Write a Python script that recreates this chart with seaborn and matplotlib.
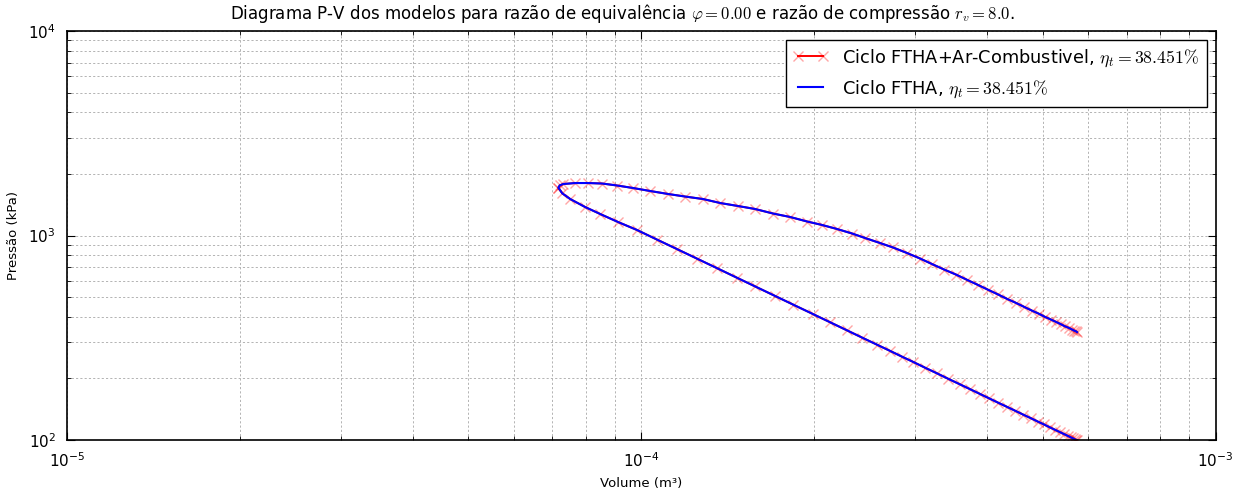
import matplotlib
matplotlib.use("Agg")
import matplotlib.pyplot as plt
import seaborn as sns
import pandas as pd

# ---- data (V in m^3, P in kPa) ----
comp_V = [5.736e-4, 5.713e-4, 5.690e-4, 5.644e-4, 5.599e-4, 5.533e-4, 5.444e-4, 5.358e-4,
          5.251e-4, 5.147e-4, 5.025e-4, 4.906e-4, 4.770e-4, 4.619e-4, 4.474e-4, 4.332e-4,
          4.179e-4, 4.031e-4, 3.888e-4, 3.736e-4, 3.589e-4, 3.420e-4, 3.273e-4, 3.119e-4,
          2.973e-4, 2.844e-4, 2.711e-4, 2.573e-4, 2.423e-4, 2.282e-4, 2.132e-4, 1.991e-4,
          1.838e-4, 1.710e-4, 1.578e-4, 1.468e-4, 1.355e-4, 1.251e-4, 1.154e-4, 1.065e-4,
          9.83e-5, 9.11e-5, 8.48e-5, 7.98e-5, 7.52e-5, 7.28e-5, 7.17e-5]
comp_P = [100.0, 100.2, 100.7, 101.8, 102.9, 104.6, 106.9, 109.2,
          112.2, 115.2, 119.1, 122.9, 127.7, 133.2, 139.1, 145.2,
          152.3, 159.9, 167.9, 177.2, 187.0, 199.4, 211.7, 225.7,
          241.0, 255.5, 272.7, 292.4, 316.8, 343.5, 376.4, 412.7,
          459.3, 506.1, 563.8, 621.1, 692.0, 770.1, 858.0, 955.0,
          1064, 1164, 1274, 1379, 1508, 1610, 1715]

exp_V = [7.17e-5, 7.21e-5, 7.31e-5, 7.67e-5, 8.08e-5, 8.55e-5, 9.08e-5, 9.68e-5, 1.036e-4,
         1.114e-4, 1.192e-4, 1.281e-4, 1.372e-4, 1.474e-4, 1.578e-4, 1.696e-4, 1.816e-4,
         1.944e-4, 2.064e-4, 2.192e-4, 2.328e-4, 2.453e-4, 2.604e-4, 2.743e-4, 2.902e-4,
         3.057e-4, 3.208e-4, 3.366e-4, 3.532e-4, 3.691e-4, 3.857e-4, 4.015e-4, 4.179e-4,
         4.332e-4, 4.492e-4, 4.638e-4, 4.789e-4, 4.926e-4, 5.045e-4, 5.168e-4, 5.273e-4,
         5.379e-4, 5.462e-4, 5.555e-4, 5.622e-4, 5.667e-4, 5.713e-4, 5.736e-4]
exp_P = [1715, 1760, 1786, 1806, 1806, 1796, 1756, 1707, 1651,
         1596, 1551, 1508, 1442, 1394, 1348, 1281, 1232,
         1171, 1126, 1076, 1023, 972, 919, 874, 821,
         772, 725, 682, 644, 607, 573, 543, 515,
         490, 468, 448, 429, 414, 400, 388, 378,
         368, 360, 353, 347, 343, 340, 337]

label_air_fuel = r"Ciclo FTHA+Ar-Combustivel, $\eta_t=38.451\%$"
label_ftha = r"Ciclo FTHA, $\eta_t=38.451\%$"
title = (r"Diagrama P-V dos modelos para razão de equivalência $\varphi=0.00$"
         r" e razão de compressão $r_v=8.0$.")

df = pd.DataFrame({"V": comp_V + exp_V, "P": comp_P + exp_P})

plt.rcParams["font.family"] = ["DejaVu Sans"]
plt.rcParams["mathtext.fontset"] = "cm"

fig = plt.figure(figsize=(12.41, 4.93), dpi=100)
ax = fig.add_axes([0.054, 0.1075, 0.9256, 0.8295])

sns.lineplot(data=df, x="V", y="P", sort=False, estimator=None, ax=ax,
             color="red", linewidth=1.4, marker="x", markersize=7,
             markeredgewidth=1.0, markeredgecolor=(1, 0, 0, 0.35),
             markerfacecolor=(1, 0, 0, 0.35))
sns.lineplot(data=df, x="V", y="P", sort=False, estimator=None, ax=ax,
             color="blue", linewidth=1.5)

lines = ax.get_lines()
lines[0].set_label(label_air_fuel)
lines[1].set_label(label_ftha)

ax.set_xscale("log")
ax.set_yscale("log")
ax.set_xlim(1e-5, 1e-3)
ax.set_ylim(1e2, 1e4)

ax.grid(True, which="both", color="0.7", linestyle=(0, (2.2, 2.2)), linewidth=0.7)
ax.set_axisbelow(True)
for s in ax.spines.values():
    s.set_color("black")
    s.set_linewidth(1.2)
ax.tick_params(which="both", direction="in", top=True, right=True, labelsize=11, pad=8)
ax.tick_params(which="major", length=6)
ax.tick_params(which="minor", length=3)

ax.set_title(title, fontsize=12, pad=9, x=0.483)
ax.set_xlabel("Volume (m³)", fontsize=9.5, labelpad=5)
ax.set_ylabel("Pressão (kPa)", fontsize=9.5, labelpad=6)

leg = ax.legend(handles=[lines[0], lines[1]], loc="upper right", numpoints=2,
                fancybox=False, framealpha=1, edgecolor="black", fontsize=12.8,
                borderaxespad=0.5, handlelength=2.0, labelspacing=0.55)
leg.get_frame().set_linewidth(1.0)

fig.savefig("out.png", dpi=100)
